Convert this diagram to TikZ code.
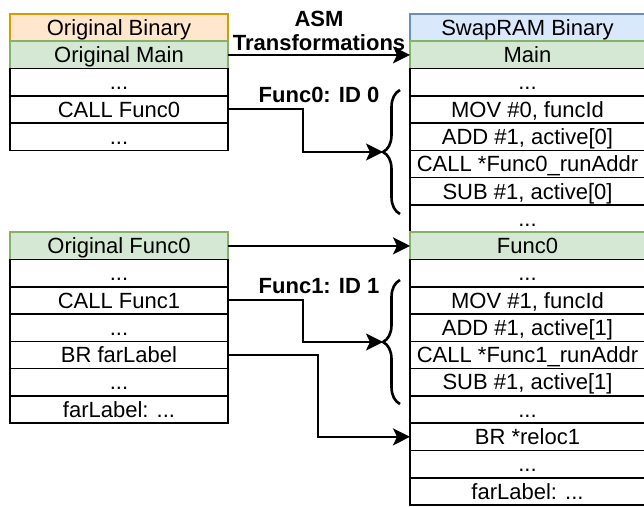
\documentclass[tikz,border=0pt]{standalone}
\usepackage{fontspec}
\setmainfont{Liberation Sans}
\usepackage{tikz}
\usetikzlibrary{arrows.meta,decorations.pathreplacing}

\newcommand{\cellfont}{\fontsize{22}{26}\selectfont}

\begin{document}
\begin{tikzpicture}[x=1pt, y=-1pt, line cap=butt,
  cell/.style={draw, line width=1.6pt, minimum width=218pt, minimum height=27.28pt,
    inner sep=0pt, outer sep=0pt, text height=19.6pt, text depth=4.2pt, font=\cellfont},
  rcell/.style={cell, minimum width=235pt},
  lbl/.style={font=\cellfont\bfseries, align=center, inner sep=0pt},
  arr/.style={-{Stealth[length=17pt, width=17pt, inset=4pt]}, line width=2pt},
  bracelin/.style={decorate, decoration={brace, amplitude=17pt}, line width=2.6pt}]
\definecolor{origF}{HTML}{FFE6CC}
\definecolor{origD}{HTML}{D79B00}
\definecolor{grnF}{HTML}{D5E8D4}
\definecolor{grnD}{HTML}{82B366}
\definecolor{bluF}{HTML}{DAE8FC}
\definecolor{bluD}{HTML}{6C8EBF}
\useasboundingbox (0,0) rectangle (644,506);
% ---- original binary (left) ----
\node[cell, fill=origF, draw=origD] (obin) at (119,27.64) {Original Binary};
\node[cell, fill=grnF, draw=grnD] (omain) at (119,54.92) {Original Main};
\node[cell] (odots0) at (119,82.20) {...};
\node[cell] (ocall0) at (119,109.48) {CALL Func0};
\node[cell] (odots1) at (119,136.76) {...};
\node[cell, fill=grnF, draw=grnD] (ofunc0) at (119,245.88) {Original Func0};
\node[cell] (odots2) at (119,273.16) {...};
\node[cell] (ocall1) at (119,300.44) {CALL Func1};
\node[cell] (odots3) at (119,327.72) {...};
\node[cell] (obr) at (119,355.00) {BR farLabel};
\node[cell] (odots4) at (119,382.28) {...};
\node[cell] (ofar) at (119,409.56) {farLabel: ...};
% ---- swapram binary (right) ----
\node[rcell, fill=bluF, draw=bluD] (sbin) at (527.5,27.64) {SwapRAM Binary};
\node[rcell, fill=grnF, draw=grnD] (smain) at (527.5,54.92) {Main};
\node[rcell] (sdots0) at (527.5,82.20) {...};
\node[rcell] (smov0) at (527.5,109.48) {MOV \#0, funcId};
\node[rcell] (sadd0) at (527.5,136.76) {ADD \#1, active[0]};
\node[rcell] (scall0) at (527.5,164.04) {CALL *Func0\_runAddr};
\node[rcell] (ssub0) at (527.5,191.32) {SUB \#1, active[0]};
\node[rcell] (sdots1) at (527.5,218.60) {...};
\node[rcell, fill=grnF, draw=grnD] (sfunc0) at (527.5,245.88) {Func0};
\node[rcell] (sdots2) at (527.5,273.16) {...};
\node[rcell] (smov1) at (527.5,300.44) {MOV \#1, funcId};
\node[rcell] (sadd1) at (527.5,327.72) {ADD \#1, active[1]};
\node[rcell] (scall1) at (527.5,355.00) {CALL *Func1\_runAddr};
\node[rcell] (ssub1) at (527.5,382.28) {SUB \#1, active[1]};
\node[rcell] (sdots3) at (527.5,409.56) {...};
\node[rcell] (sbr) at (527.5,436.84) {BR *reloc1};
\node[rcell] (sdots4) at (527.5,464.12) {...};
\node[rcell] (sfar) at (527.5,491.40) {farLabel: ...};
% ---- labels ----
\node[lbl] (asmlbl) at (319,31) {ASM\\[-2pt]Transformations};
\node[lbl] (id0lbl) at (319,95) {Func0: ID 0};
\node[lbl] (id1lbl) at (319,286) {Func1: ID 1};
% ---- braces ----
\coordinate (b0bot) at (400,214);
\coordinate (b0top) at (400,90);
\coordinate (tip0) at (383,152);
\draw[bracelin] (b0bot) -- (b0top);
\coordinate (b1bot) at (400,404);
\coordinate (b1top) at (400,280);
\coordinate (tip1) at (383,342);
\draw[bracelin] (b1bot) -- (b1top);
% ---- arrows ----
\draw[arr] (omain.east) -- (smain.west);
\draw[arr] (ofunc0.east) -- (sfunc0.west);
\draw[arr] (ocall0.east) -- ++(75,0) |- (tip0);
\draw[arr] (ocall1.east) -- ++(75,0) |- (tip1);
\draw[arr] (obr.east) -- ++(90,0) |- (sbr.west);
\end{tikzpicture}
\end{document}
